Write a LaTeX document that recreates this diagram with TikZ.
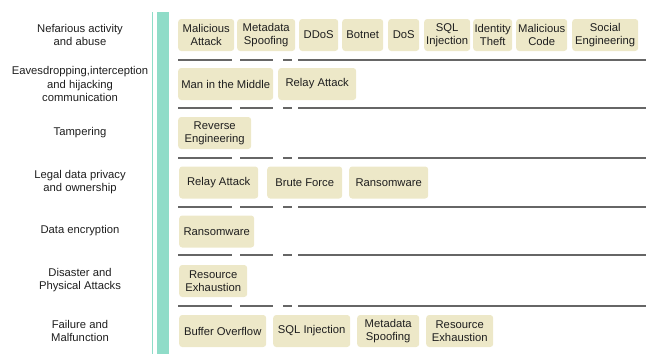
\documentclass[tikz,border=0pt]{standalone}
\usepackage{fontspec}
\setmainfont{Liberation Sans}
\definecolor{tagfill}{HTML}{EDE8C8}
\definecolor{barteal}{HTML}{8FDCC8}
\definecolor{sepgray}{HTML}{666666}
\definecolor{txt}{HTML}{1E1E1E}
\begin{document}
\begin{tikzpicture}[x=1bp,y=-1bp,
  tag/.style={fill=tagfill,rounded corners=3bp,anchor=west,minimum height=32bp,
    inner sep=0pt,align=center,text=txt,font=\fontsize{11.3}{12.8}\selectfont},
  cat/.style={align=center,text=txt,font=\fontsize{11.3}{13.5}\selectfont},
  sep/.style={sepgray,line width=1.7bp}]
\useasboundingbox (0,0) rectangle (648,354);
% bars
\draw[barteal,line width=1.6bp] (152.5,12) -- (152.5,354);
\fill[barteal] (157,12) rectangle (169,354);
% categories
\node[cat] (nef) at (80,35) {Nefarious activity\\and abuse};
\node[cat] (eav) at (80,84) {Eavesdropping,interception\\and hijacking\\communication};
\node[cat] (tam) at (80,133) {Tampering};
\node[cat] (leg) at (80,182) {Legal data privacy\\and ownership};
\node[cat] (enc) at (80,231) {Data encryption};
\node[cat] (dis) at (80,280) {Disaster and\\Physical Attacks};
\node[cat] (fail) at (80,331) {Failure and\\Malfunction};
% threats
\node[tag,minimum width=56bp] (malatt) at (178,35) {Malicious\\Attack};
\node[tag,minimum width=58bp] (meta1) at (237,35) {Metadata\\Spoofing};
\node[tag,minimum width=39bp] (ddos) at (299,35) {DDoS};
\node[tag,minimum width=41bp] (botnet) at (342,35) {Botnet};
\node[tag,minimum width=31bp] (dos) at (388,35) {DoS};
\node[tag,minimum width=46bp] (sql1) at (424,35) {SQL\\Injection};
\node[tag,minimum width=39bp] (ident) at (473,35) {Identity\\Theft};
\node[tag,minimum width=51bp] (malcode) at (516,35) {Malicious\\Code};
\node[tag,minimum width=66bp] (social) at (572,35) {Social\\Engineering};
\node[tag,minimum width=95bp] (mitm) at (178,84) {Man in the Middle};
\node[tag,minimum width=78bp] (relay1) at (278,84) {Relay Attack};
\node[tag,minimum width=73bp] (rev) at (178,133) {Reverse\\Engineering};
\node[tag,minimum width=79bp] (relay2) at (179,182.5) {Relay Attack};
\node[tag,minimum width=75bp] (brute) at (267,182.5) {Brute Force};
\node[tag,minimum width=79bp] (ransom1) at (349,182.5) {Ransomware};
\node[tag,minimum width=75bp] (ransom2) at (179,231.5) {Ransomware};
\node[tag,minimum width=68bp] (res1) at (179,281) {Resource\\Exhaustion};
\node[tag,minimum width=87bp] (buf) at (179,331) {Buffer Overflow};
\node[tag,minimum width=77bp] (sql2) at (273,331) {SQL Injection};
\node[tag,minimum width=62bp] (meta2) at (357,331) {Metadata\\Spoofing};
\node[tag,minimum width=67bp] (res2) at (426,331) {Resource\\Exhaustion};
% row separators
\draw[sep] (178,60) -- (232,60) (240,60) -- (273,60) (283,60) -- (292,60) (298,60) -- (646,60);
\draw[sep] (178,108) -- (232,108) (240,108) -- (273,108) (283,108) -- (292,108) (298,108) -- (646,108);
\draw[sep] (178,158) -- (232,158) (240,158) -- (273,158) (283,158) -- (292,158) (298,158) -- (646,158);
\draw[sep] (178,207) -- (232,207) (240,207) -- (273,207) (283,207) -- (292,207) (298,207) -- (646,207);
\draw[sep] (178,255) -- (232,255) (240,255) -- (273,255) (283,255) -- (292,255) (298,255) -- (646,255);
\draw[sep] (178,306) -- (232,306) (240,306) -- (273,306) (283,306) -- (292,306) (298,306) -- (646,306);
\end{tikzpicture}
\end{document}
